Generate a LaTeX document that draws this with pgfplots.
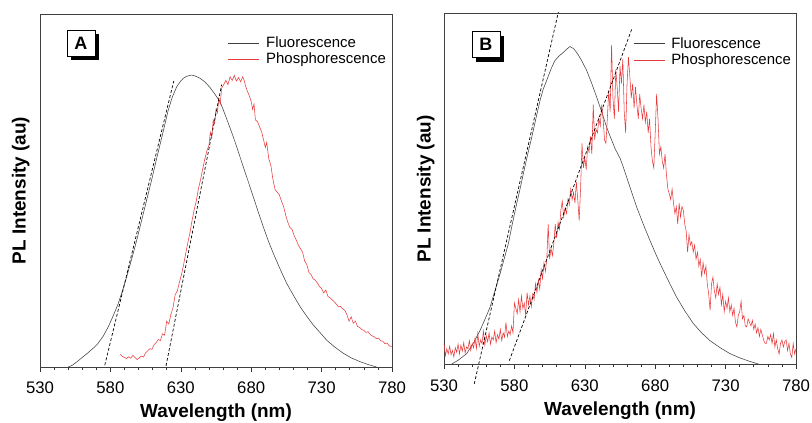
\documentclass[border=0pt]{standalone}
\usepackage{fontspec}
\setmainfont{Liberation Sans}
\usepackage{pgfplots}
\pgfplotsset{compat=1.18}
\usepackage{pgfplotstable}

\definecolor{fl}{HTML}{404040}
\definecolor{ph}{HTML}{E83A3C}

\pgfplotstableread{
x y
550.0 0.000
553.0 0.005
556.0 0.014
560.0 0.027
564.0 0.040
568.0 0.054
571.0 0.066
575.0 0.088
578.5 0.114
582.0 0.145
585.6 0.180
588.5 0.215
591.6 0.256
594.5 0.297
597.5 0.341
600.5 0.388
603.4 0.435
606.3 0.482
609.3 0.530
612.2 0.580
615.2 0.629
618.2 0.679
621.1 0.728
624.0 0.765
627.1 0.794
629.5 0.808
631.8 0.818
634.5 0.824
637.7 0.827
640.5 0.824
643.6 0.818
647.0 0.808
650.7 0.792
654.0 0.774
657.8 0.752
660.2 0.728
663.5 0.693
667.3 0.652
670.9 0.609
674.4 0.567
678.0 0.524
681.5 0.482
685.0 0.439
688.6 0.397
692.0 0.359
695.7 0.322
700.0 0.282
705.2 0.237
710.0 0.203
714.7 0.171
719.4 0.144
724.1 0.119
729.0 0.097
733.6 0.076
739.5 0.056
745.4 0.039
751.0 0.026
757.3 0.015
763.0 0.007
769.1 0.000
}\flA

\pgfplotstableread{
x y
587.0 0.036
588.5 0.030
590.0 0.027
591.5 0.024
593.0 0.029
594.5 0.025
596.0 0.033
597.5 0.027
599.0 0.021
600.5 0.026
602.0 0.031
603.5 0.028
605.0 0.040
606.5 0.046
608.0 0.052
609.5 0.050
611.0 0.063
612.5 0.069
614.0 0.078
615.5 0.075
617.0 0.094
618.5 0.090
620.0 0.130
621.5 0.122
623.0 0.150
624.5 0.168
626.0 0.205
627.5 0.215
629.0 0.240
630.5 0.262
632.0 0.290
633.5 0.322
635.0 0.352
636.5 0.380
638.0 0.415
639.5 0.446
641.0 0.470
642.5 0.505
644.0 0.530
645.5 0.560
647.0 0.588
648.5 0.612
650.0 0.628
651.0 0.665
652.0 0.650
653.0 0.700
654.0 0.690
655.0 0.730
656.0 0.720
657.0 0.760
658.0 0.745
659.0 0.790
660.5 0.800
662.0 0.812
663.5 0.800
665.0 0.822
666.5 0.812
668.0 0.826
669.5 0.810
671.0 0.820
672.5 0.808
674.0 0.822
675.0 0.812
676.0 0.796
677.0 0.784
678.5 0.770
680.0 0.752
681.0 0.730
682.0 0.745
683.0 0.700
684.5 0.695
686.0 0.680
687.5 0.665
689.0 0.640
690.0 0.622
691.0 0.636
692.5 0.590
694.0 0.570
695.5 0.530
697.0 0.502
698.5 0.495
700.0 0.488
701.5 0.470
703.0 0.455
704.5 0.430
706.0 0.410
707.5 0.395
709.0 0.390
710.5 0.372
712.0 0.360
713.5 0.345
715.0 0.335
716.5 0.325
718.0 0.300
719.5 0.290
721.0 0.268
722.5 0.262
724.0 0.250
725.5 0.246
727.0 0.238
728.5 0.228
730.0 0.222
731.5 0.210
733.0 0.218
734.5 0.200
736.0 0.196
737.5 0.190
739.0 0.185
740.5 0.178
742.0 0.170
743.5 0.172
745.0 0.165
746.5 0.160
748.0 0.148
749.5 0.130
751.0 0.142
752.5 0.124
754.0 0.130
755.5 0.115
757.0 0.112
758.5 0.106
760.0 0.104
761.5 0.098
763.0 0.100
764.5 0.092
766.0 0.088
767.5 0.085
769.0 0.080
770.5 0.082
772.0 0.074
773.5 0.073
775.0 0.066
776.5 0.068
778.0 0.060
779.7 0.058
}\phA

\pgfplotstableread{
x y
535.0 0.000
540.0 0.012
546.1 0.031
551.0 0.062
555.6 0.097
559.0 0.128
562.7 0.163
566.0 0.208
569.8 0.258
573.0 0.305
575.7 0.344
578.5 0.400
581.6 0.458
584.0 0.500
586.3 0.543
589.5 0.600
592.3 0.647
595.5 0.705
598.2 0.752
600.5 0.785
602.9 0.809
606.0 0.842
608.8 0.866
611.5 0.878
614.7 0.889
617.0 0.898
619.5 0.906
622.0 0.900
624.2 0.889
627.5 0.868
631.3 0.838
635.0 0.800
638.4 0.762
642.0 0.720
645.5 0.676
648.0 0.650
651.5 0.615
655.0 0.588
657.3 0.563
662.0 0.506
666.8 0.449
671.5 0.400
676.3 0.353
681.0 0.309
685.8 0.268
690.5 0.229
695.2 0.192
701.0 0.153
707.0 0.117
713.0 0.090
718.9 0.068
726.0 0.048
733.1 0.031
740.0 0.019
747.0 0.009
754.4 0.000
}\flB

\pgfplotstableread{
x y
530 0.060
531 0.025
532 0.045
533 0.030
534 0.052
535 0.028
536 0.040
537 0.022
538 0.048
539 0.035
540 0.058
541 0.030
542 0.055
543 0.038
544 0.062
545 0.033
546 0.050
547 0.045
548 0.068
549 0.040
550 0.060
551 0.048
552 0.075
553 0.045
554 0.088
555 0.052
556 0.070
557 0.060
558 0.095
559 0.055
560 0.082
561 0.065
562 0.090
563 0.058
564 0.078
565 0.070
566 0.095
567 0.062
568 0.085
569 0.072
570 0.100
571 0.068
572 0.090
573 0.078
574 0.120
575 0.080
576 0.095
577 0.085
578 0.110
579 0.090
580 0.175
581 0.160
582 0.145
583 0.185
584 0.150
585 0.195
586 0.160
587 0.175
588 0.140
589 0.205
590 0.170
591 0.195
592 0.165
593 0.200
594 0.185
595 0.230
596 0.205
597 0.240
598 0.215
599 0.270
600 0.245
601 0.290
602 0.265
603 0.300
604 0.400
605 0.300
606 0.330
607 0.310
608 0.345
609 0.400
610 0.360
611 0.405
612 0.385
613 0.440
614 0.465
615 0.420
616 0.445
617 0.430
618 0.470
619 0.455
620 0.500
621 0.470
622 0.490
623 0.460
624 0.520
625 0.470
626 0.410
627 0.500
628 0.630
629 0.560
630 0.590
631 0.555
632 0.620
633 0.605
634 0.650
635 0.600
636 0.740
637 0.640
638 0.670
639 0.660
640 0.700
641 0.680
642 0.740
643 0.700
644 0.640
645 0.630
646 0.700
647 0.780
648 0.720
649 0.910
650 0.760
651 0.700
652 0.840
653 0.790
654 0.720
655 0.850
656 0.800
657 0.870
658 0.720
659 0.660
660 0.800
661 0.876
662 0.820
663 0.760
664 0.800
665 0.730
666 0.790
667 0.740
668 0.700
669 0.770
670 0.730
671 0.700
672 0.740
673 0.690
674 0.720
675 0.660
676 0.700
677 0.620
678 0.580
679 0.560
680 0.660
681 0.771
682 0.700
683 0.600
684 0.620
685 0.580
686 0.560
687 0.600
688 0.540
689 0.500
690 0.486
691 0.470
692 0.500
693 0.460
694 0.430
695 0.450
696 0.400
697 0.460
698 0.420
699 0.450
700 0.439
701 0.400
702 0.380
703 0.320
704 0.370
705 0.340
706 0.350
707 0.320
708 0.340
709 0.300
710 0.320
711 0.280
712 0.300
713 0.249
714 0.290
715 0.260
716 0.280
717 0.230
718 0.200
719 0.154
720 0.230
721 0.249
722 0.210
723 0.190
724 0.230
725 0.200
726 0.220
727 0.170
728 0.200
729 0.150
730 0.180
731 0.160
732 0.190
733 0.150
734 0.170
735 0.140
736 0.160
737 0.120
738 0.107
739 0.140
740 0.150
741 0.180
742 0.130
743 0.140
744 0.110
745 0.107
746 0.130
747 0.120
748 0.110
749 0.126
750 0.100
751 0.115
752 0.090
753 0.105
754 0.080
755 0.100
756 0.085
757 0.070
758 0.060
759 0.060
760 0.080
761 0.070
762 0.085
763 0.060
764 0.088
765 0.050
766 0.070
767 0.045
768 0.030
769 0.060
770 0.070
771 0.050
772 0.065
773 0.070
774 0.040
775 0.060
776 0.030
777 0.020
778 0.060
779 0.030
780 0.045
}\phB

\pgfplotsset{
  panel/.style={
    scale only axis, width=352bp,
    xmin=530, xmax=780, ymin=0, ymax=1,
    xtick={530,580,630,680,730,780}, minor x tick num=4,
    ytick=\empty, xtick pos=bottom,
    tick align=outside, major tick length=4.5bp, minor tick length=2.7bp,
    tick style={black!80, line width=0.6bp},
    axis line style={black!75, line width=0.9bp},
    /pgf/number format/assume math mode=true,
    /pgf/number format/set thousands separator={},
    xticklabel style={font=\fontsize{16.8}{19}\selectfont, anchor=base, yshift=-22bp},
    xlabel={Wavelength (nm)},
    ylabel={PL Intensity (au)},
    label style={font=\bfseries\fontsize{19}{22}\selectfont},
    xlabel style={at={(axis description cs:0.5,0)}, anchor=base, yshift=-50.8bp},
    clip=false,
    legend style={draw=none, fill=none, font=\fontsize{15}{17}\selectfont,
      inner sep=0pt, row sep=1bp, nodes={inner sep=1.5bp}},
    legend cell align=left,
    legend image code/.code={\draw[#1] (0bp,0bp) -- (31bp,0bp); \path (36bp,0bp);},
  },
  fl/.style={color=fl, line width=0.55bp},
  ph/.style={color=ph, line width=0.55bp},
  dl/.style={black, line width=0.7bp, dash pattern=on 3bp off 2bp, forget plot},
}

\begin{document}
\begin{tikzpicture}
\begin{axis}[panel, at={(40bp,56bp)}, anchor=south west, height=353bp,
  ylabel style={at={(axis description cs:-0.055,0.5)}, anchor=center},
  legend style={at={(axis description cs:0.534,0.9405)}, anchor=north west}]
  \addplot[fl] table {\flA};
  \addlegendentry{Fluorescence}
  \addplot[ph] table {\phA};
  \addlegendentry{Phosphorescence}
  \addplot[dl] coordinates {(576,0.005) (625,0.81)};
  \addplot[dl] coordinates {(619.5,0.003) (659,0.80)};
  \node[fill=black, minimum width=28bp, minimum height=26bp, inner sep=0pt, xshift=4bp, yshift=-4.5bp] at (axis description cs:0.116,0.918) {};
  \node[fill=white, draw=black, line width=0.6bp, minimum width=28bp, minimum height=26bp, inner sep=0pt, font=\bfseries\fontsize{18}{20}\selectfont] at (axis description cs:0.116,0.918) {A};
\end{axis}
\begin{axis}[panel, at={(444bp,58.5bp)}, anchor=south west, height=351bp,
  ylabel style={at={(axis description cs:-0.052,0.5)}, anchor=center},
  legend style={at={(axis description cs:0.537,0.937)}, anchor=north west}]
  \addplot[fl] table {\flB};
  \addlegendentry{Fluorescence}
  \addplot[ph] table {\phB};
  \addlegendentry{Phosphorescence}
  \addplot[dl] coordinates {(551.5,-0.055) (611.2,1.004)};
  \addplot[dl] coordinates {(576.4,0.011) (663.3,0.955)};
  \node[fill=black, minimum width=28bp, minimum height=26bp, inner sep=0pt, xshift=4bp, yshift=-4.5bp] at (axis description cs:0.119,0.9125) {};
  \node[fill=white, draw=black, line width=0.6bp, minimum width=28bp, minimum height=26bp, inner sep=0pt, font=\bfseries\fontsize{18}{20}\selectfont] at (axis description cs:0.119,0.9125) {B};
\end{axis}
\pgfresetboundingbox
\useasboundingbox (0,0) rectangle (812bp,423bp);
\end{tikzpicture}
\end{document}
